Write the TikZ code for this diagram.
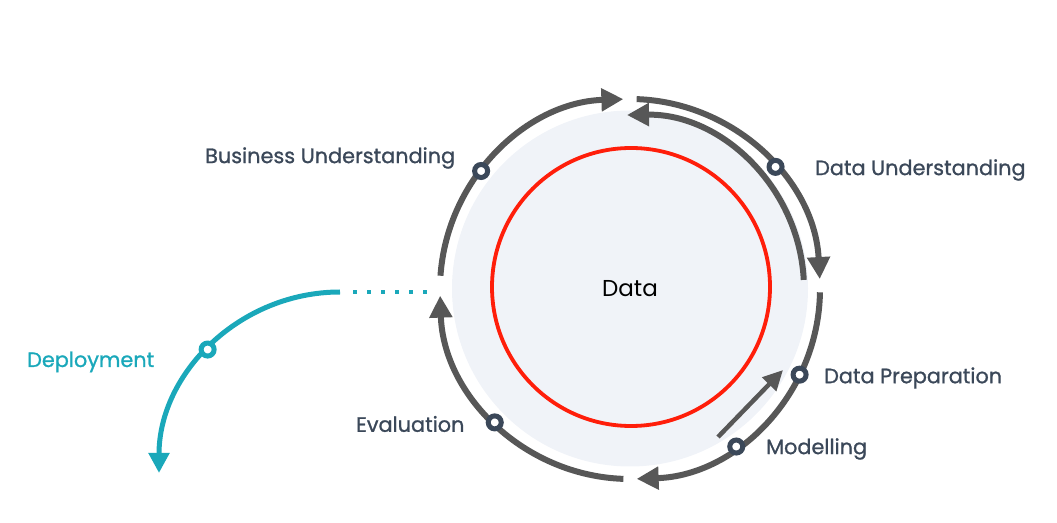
\documentclass[tikz,border=0pt]{standalone}
\usepackage{fontspec}
\setmainfont{Poppins}
\newfontfamily\labfont{Poppins}[FakeBold=1.0]
\usetikzlibrary{arrows.meta}
\definecolor{arcgray}{HTML}{575757}
\definecolor{navy}{HTML}{3B4859}
\definecolor{tealc}{HTML}{1AA8BA}
\definecolor{fillc}{HTML}{F0F3F8}
\definecolor{redc}{HTML}{FF1E0A}
\begin{document}
\begin{tikzpicture}[x=1pt,y=1pt,
 cyc/.style={draw=arcgray, line width=6pt, -{Triangle[length=22pt,width=22pt]}},
 marker/.style={circle, draw=navy, line width=5pt, fill=white, minimum size=13pt, inner sep=0pt},
 lab/.style={text=navy, font=\labfont\fontsize{20.8}{24}\selectfont, inner sep=0pt, anchor=west}]
\useasboundingbox (0,0) rectangle (1057,522);
\coordinate (C) at (630,233);
\fill[fillc] (630,233.5) circle (178);
\draw[redc, line width=3.8pt] (631,235) circle (139);
\node[font=\fontsize{23}{27}\selectfont, text=black] (data) at (630,233) {Data};

\draw[cyc] ([shift={(176:190)}]C) arc[start angle=176,end angle=92,radius=190];
\draw[cyc] ([shift={(88:190)}]C) arc[start angle=88,end angle=3,radius=190];
\draw[cyc] ([shift={(3:174)}]C) arc[start angle=3,end angle=91,radius=174];
\draw[cyc] ([shift={(-1:190)}]C) arc[start angle=-1,end angle=-88,radius=190];
\draw[cyc] ([shift={(268:190)}]C) arc[start angle=268,end angle=182,radius=190];

\node[marker] (mBU) at ([shift={(141.6:190)}]C) {};
\node[marker] (mDU) at ([shift={(40:190)}]C) {};
\node[marker] (mDP) at ([shift={(-26.8:190)}]C) {};
\node[marker] (mMO) at ([shift={(-56:190)}]C) {};
\node[marker] (mEV) at ([shift={(224.6:190)}]C) {};

\coordinate (ms) at (718,85);
\coordinate (me) at (783,152);
\draw[draw=arcgray, line width=4.5pt, -{Triangle[length=20pt,width=19pt]}] (ms) -- (me);

\node[lab] (tBU) at (205,364) {Business Understanding};
\node[lab] (tDU) at (815,352) {Data Understanding};
\node[lab] (tDP) at (824,144) {Data Preparation};
\node[lab] (tMO) at (766,73) {Modelling};
\node[lab] (tEV) at (356,98) {Evaluation};
\node[lab, text=tealc] (tDE) at (27,160) {Deployment};

\coordinate (ds) at (340,230);
\coordinate (dd) at (430,230);
\draw[tealc, line width=4pt, dash pattern=on 4pt off 10pt] (353,230) -- (dd);
\draw[tealc, line width=5pt, -{Triangle[length=20pt,width=20pt]}] (ds) arc[start angle=90,end angle=180,radius=181];
\node[marker, draw=tealc] (mDE) at ([shift={(137:181)}]340,49) {};
\end{tikzpicture}
\end{document}
